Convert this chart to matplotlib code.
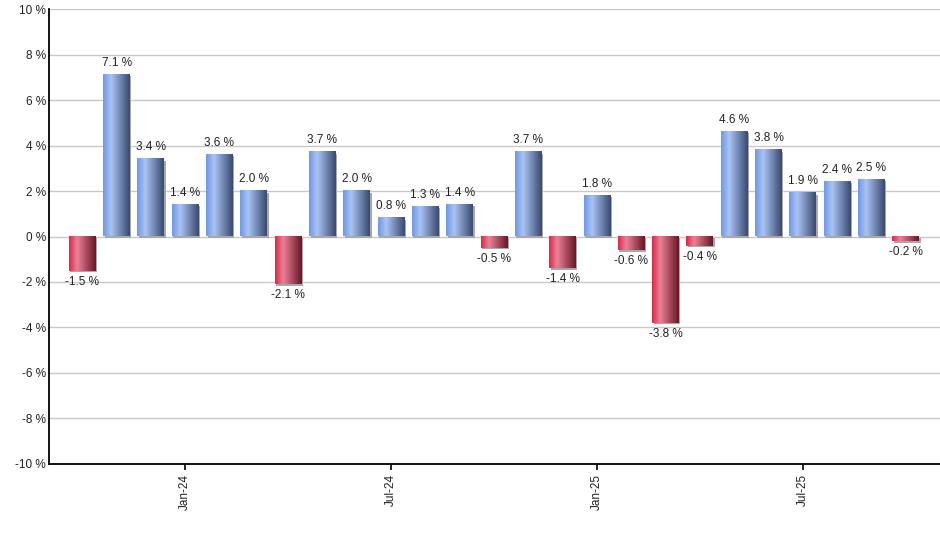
"""Monthly returns bar chart with gradient-filled bars."""

import matplotlib
matplotlib.use('Agg')
import matplotlib.pyplot as plt
from matplotlib.colors import LinearSegmentedColormap
from matplotlib.patches import Rectangle
import numpy as np

plt.rcParams.update({
    'font.family': ['Liberation Sans', 'DejaVu Sans'],
    'font.size': 8.5,
})

# Monthly returns, Oct-23 .. Oct-25 (percent)
months = ['Oct-23', 'Nov-23', 'Dec-23', 'Jan-24', 'Feb-24', 'Mar-24', 'Apr-24',
          'May-24', 'Jun-24', 'Jul-24', 'Aug-24', 'Sep-24', 'Oct-24', 'Nov-24',
          'Dec-24', 'Jan-25', 'Feb-25', 'Mar-25', 'Apr-25', 'May-25', 'Jun-25',
          'Jul-25', 'Aug-25', 'Sep-25', 'Oct-25']
returns = [-1.5, 7.1, 3.4, 1.4, 3.6, 2.0, -2.1, 3.7, 2.0, 0.8, 1.3, 1.4, -0.5,
           3.7, -1.4, 1.8, -0.6, -3.8, -0.4, 4.6, 3.8, 1.9, 2.4, 2.5, -0.2]
tick_months = ['Jan-24', 'Jul-24', 'Jan-25', 'Jul-25']
y_ticks = [-10, -8, -6, -4, -2, 0, 2, 4, 6, 8, 10]

blue = LinearSegmentedColormap.from_list(
    'blue', [(0, '#6e98e6'), (0.3, '#aac4f4'), (1.0, '#394a70')])
red = LinearSegmentedColormap.from_list(
    'red', [(0, '#dc2848'), (0.3, '#ea8296'), (1.0, '#681626')])
grad = np.linspace(0, 1, 64).reshape(1, -1)

fig = plt.figure(figsize=(9.4, 5.5), dpi=100)
ax = fig.add_axes([0.0521, 0.1564, 0.9479, 0.8272])

x = np.arange(len(months))
width = 0.78
px_x = 1 / 34.3   # data units per pixel
px_y = 1 / 22.75

for xi, v in zip(x, returns):
    x0, x1 = xi - width / 2, xi + width / 2
    y0, y1 = (0, v) if v >= 0 else (v, 0)
    # thin drop shadow
    ax.add_patch(Rectangle((x0 + 1.5 * px_x, y0 - 1.5 * px_y), width, y1 - y0,
                           facecolor='#a8a8a8', edgecolor='none', zorder=2))
    ax.imshow(grad, extent=[x0, x1, y0, y1], aspect='auto',
              cmap=blue if v >= 0 else red, zorder=3, interpolation='bicubic')
    if v >= 0:
        ax.text(xi, v + 6 * px_y, f'{v:.1f} %', ha='center', va='bottom',
                fontsize=8.5, color='#222222', zorder=4)
    else:
        ax.text(xi, v - 5 * px_y, f'{v:.1f} %', ha='center', va='top',
                fontsize=8.5, color='#222222', zorder=4)

ax.set_xlim(-0.97, 25.0)
ax.set_ylim(-10, 10)
ax.set_yticks(y_ticks)
ax.set_yticklabels([f'{t} %' for t in y_ticks])
ax.yaxis.grid(True, color='#c8c8c8', linewidth=1.0, zorder=0)
ax.set_axisbelow(True)

ax.set_xticks([months.index(m) for m in tick_months])
ax.set_xticklabels(tick_months, rotation=90)

for s in ['top', 'right']:
    ax.spines[s].set_visible(False)
for s in ['left', 'bottom']:
    ax.spines[s].set_linewidth(1.3)
    ax.spines[s].set_zorder(5)
ax.tick_params(axis='y', length=0, pad=2, labelcolor='#222222')
ax.tick_params(axis='x', length=4, width=1.2, pad=3, labelcolor='#222222')

fig.savefig('out.png', dpi=100)
plt.close()
